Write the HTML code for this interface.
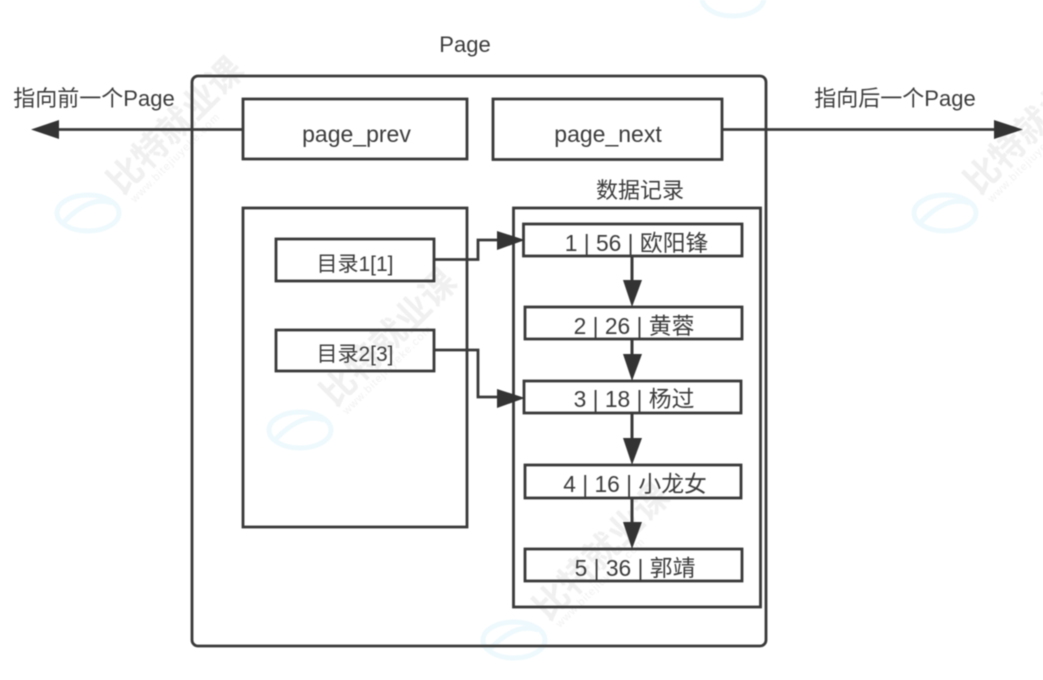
<!DOCTYPE html>
<html><head><meta charset="utf-8">
<style>
html,body{margin:0;padding:0;background:#fff;width:1043px;height:680px;overflow:hidden}
svg{display:block;filter:blur(0.5px)}
text{font-family:"Liberation Sans","Noto Sans CJK SC",sans-serif;fill:#3c3c3c;font-size:22px}
text.wm{fill:#f0f0f0;font-size:35px;font-weight:bold}
text.ws{fill:#f1f1f1;font-size:11px;letter-spacing:1px}
.r{fill:none;stroke:#3a3a3a;stroke-width:2.8}
.l{fill:none;stroke:#3a3a3a;stroke-width:2.8}
.h{fill:#333}
</style></head><body>
<svg width="1043" height="680" viewBox="0 0 1043 680" xmlns="http://www.w3.org/2000/svg">
<!-- watermarks -->
<g fill="none" stroke="#eef9fd" stroke-width="5">
<ellipse cx="88" cy="213" rx="31" ry="18"/><path d="M64 222 Q90 195 112 203"/>
<ellipse cx="945" cy="213" rx="31" ry="18"/><path d="M921 222 Q947 195 969 203"/>
<ellipse cx="300" cy="430" rx="31" ry="18"/><path d="M276 439 Q302 412 324 420"/>
<ellipse cx="514" cy="640" rx="31" ry="18"/><path d="M490 649 Q516 622 538 630"/>
<ellipse cx="733" cy="-2" rx="31" ry="18"/>
</g>
<text class="wm" transform="translate(122,196) rotate(-45)">比特就业课</text>
<text class="wm" transform="translate(335,408) rotate(-45)">比特就业课</text>
<text class="wm" transform="translate(548,622) rotate(-45)">比特就业课</text>
<text class="wm" transform="translate(979,196) rotate(-45)">比特就业课</text>
<text class="ws" transform="translate(135,203) rotate(-45)">www.bitejiuyeke.com</text>
<text class="ws" transform="translate(347,415) rotate(-45)">www.bitejiuyeke.com</text>
<text class="ws" transform="translate(560,628) rotate(-45)">www.bitejiuyeke.com</text>
<text class="ws" transform="translate(992,203) rotate(-45)">www.bitejiuyeke.com</text>

<!-- containers -->
<rect class="r" x="192" y="76" width="574" height="570" rx="6"/>
<rect class="r" x="243" y="99" width="224" height="60"/>
<rect class="r" x="493" y="99" width="229" height="60.5"/>
<rect class="r" x="243" y="208" width="224" height="319"/>
<rect class="r" x="513.5" y="208" width="247" height="399"/>
<rect class="r" x="276" y="239" width="158" height="42"/>
<rect class="r" x="276" y="330" width="158" height="41"/>
<rect class="r" x="523.5" y="224" width="218.5" height="32"/>
<rect class="r" x="525" y="307" width="217" height="32"/>
<rect class="r" x="524" y="381" width="217" height="32"/>
<rect class="r" x="525" y="465" width="216" height="33"/>
<rect class="r" x="525" y="549" width="217" height="32"/>

<!-- connectors -->
<path class="l" d="M243 129.500H50"/><polygon class="h" points="31,129.500 59,120 59,139"/>
<path class="l" d="M722 129.500H1000"/><polygon class="h" points="1023,129.500 994,120 994,139"/>
<path class="l" d="M434 259.500H478V240H505"/><polygon class="h" points="525,240 497,231 497,250"/>
<path class="l" d="M434 350H478V397H505"/><polygon class="h" points="525,398 497,389 497,408"/>
<path class="l" d="M632 256V285" style="stroke-width:3"/><polygon class="h" points="632,307 623,280 642,280"/>
<path class="l" d="M632 339V360" style="stroke-width:3"/><polygon class="h" points="632,381 623,354 642,354"/>
<path class="l" d="M632 413V442" style="stroke-width:3"/><polygon class="h" points="632,465 623,438 642,438"/>
<path class="l" d="M632 498V526" style="stroke-width:3"/><polygon class="h" points="632,549 623,522 642,522"/>

<!-- labels -->
<text x="465" y="52" text-anchor="middle">Page</text>
<text x="94" y="106" text-anchor="middle">指向前一个Page</text>
<text x="895" y="106" text-anchor="middle">指向后一个Page</text>
<text x="356.500" y="142" text-anchor="middle" style="font-size:23px">page_prev</text>
<text x="608" y="142" text-anchor="middle" style="font-size:23px">page_next</text>
<text x="640" y="198" text-anchor="middle">数据记录</text>
<text x="355" y="271" text-anchor="middle" style="font-size:21px">目录1[1]</text>
<text x="355" y="361" text-anchor="middle" style="font-size:21px">目录2[3]</text>
<text x="636.500" y="251" text-anchor="middle" style="font-size:22.800px">1 | 56 | 欧阳锋</text>
<text x="634" y="334" text-anchor="middle" style="font-size:22.800px">2 | 26 | 黄蓉</text>
<text x="634" y="407" text-anchor="middle" style="font-size:22.800px">3 | 18 | 杨过</text>
<text x="635" y="492" text-anchor="middle" style="font-size:22.800px">4 | 16 | 小龙女</text>
<text x="635" y="576" text-anchor="middle" style="font-size:22.800px">5 | 36 | 郭靖</text>
</svg>
</body></html>
